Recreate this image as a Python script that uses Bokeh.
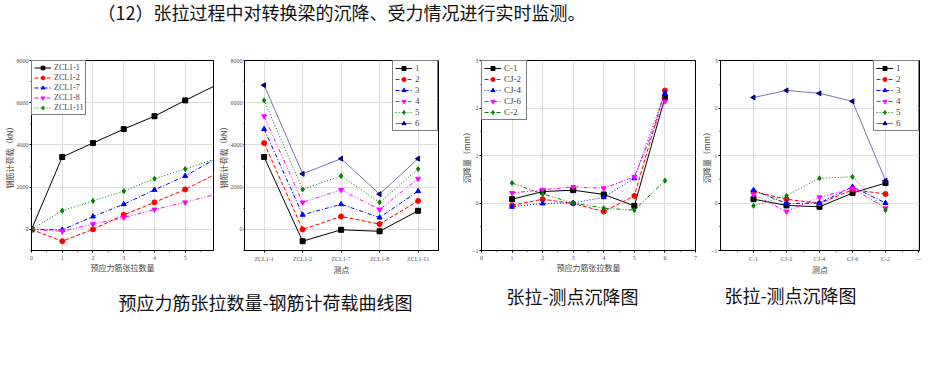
import numpy as np
from bokeh.plotting import figure
from bokeh.layouts import column, row
from bokeh.models import Range1d, FixedTicker, Legend, LegendItem, Label
from bokeh.embed import file_html
from bokeh.resources import INLINE

# ---------------- data ----------------
title_text = "（12）张拉过程中对转换梁的沉降、受力情况进行实时监测。"
caption_texts = ["预应力筋张拉数量-钢筋计荷载曲线图", "张拉-测点沉降图", "张拉-测点沉降图"]

load_xlabel = "预应力筋张拉数量"
point_xlabel = "测点"
load_ylabel = "钢筋计荷载（kN）"
settle_ylabel = "沉降量（mm）"

# rebar gauge load (kN) vs. number of tensioned tendons
load_points = ["ZCL1-1", "ZCL1-2", "ZCL1-7", "ZCL1-8", "ZCL1-11"]
tension_counts = [0, 1, 2, 3, 4, 5, 6]
zcl1_1 = [0, 3430, 4090, 4750, 5360, 6110, 6830]
zcl1_2 = [0, -560, 0, 690, 1280, 1890, 2630]
zcl1_7 = [0, -20, 610, 1190, 1870, 2530, 3350]
zcl1_8 = [0, -90, 250, 560, 940, 1280, 1670]
zcl1_11 = [0, 880, 1350, 1810, 2400, 2860, 3350]
load_series = [zcl1_1, zcl1_2, zcl1_7, zcl1_8, zcl1_11]

# settlement (mm) vs. number of tensioned tendons
settle_points = ["C-1", "CJ-2", "CJ-4", "CJ-6", "C-2"]
settle_counts = [1, 2, 3, 4, 5, 6]
c_1 = [0.08, 0.24, 0.27, 0.18, -0.06, 2.22]
cj_2 = [-0.05, 0.08, -0.01, -0.18, 0.15, 2.37]
cj_4 = [-0.08, -0.01, 0.00, 0.12, 0.52, 2.31]
cj_6 = [0.21, 0.28, 0.34, 0.31, 0.55, 2.14]
c_2 = [0.42, 0.19, 0.00, -0.11, -0.15, 0.47]
settle_series = [c_1, cj_2, cj_4, cj_6, c_2]

stage_labels = ["1", "2", "3", "4", "5", "6"]
extra_tick_label = "—"

# ---------------- styles ----------------
SOLID, DASH, DOT, DASHDOT, DASHDOTDOT = "solid", "4 2", "1 2", "4 2 1 2", "4 2 1 2 1 2"
C_BLACK, C_RED, C_BLUE, C_MAG, C_GREEN, C_NAVY = "#000000", "#ff0000", "#0000ff", "#ff00ff", "#008000", "#000080"
# (line color, marker color, dash, marker, angle)
stage_styles = [
    (C_BLACK, C_BLACK, SOLID, "square", 0),
    (C_RED, C_RED, DASH, "circle", 0),
    (C_BLUE, C_BLUE, DASHDOT, "triangle", 0),
    (C_MAG, C_MAG, DASHDOTDOT, "inverted_triangle", 0),
    (C_GREEN, C_GREEN, DOT, "diamond", 0),
    ("#7474b0", C_NAVY, SOLID, "triangle", np.pi / 2),
]
load_styles = stage_styles[:5]
settle_styles = [
    (C_BLACK, C_BLACK, SOLID, "square", 0),
    (C_RED, C_RED, DASH, "circle", 0),
    (C_BLUE, C_BLUE, DOT, "triangle", 0),
    (C_MAG, C_MAG, DASHDOT, "inverted_triangle", 0),
    (C_GREEN, C_GREEN, DASHDOTDOT, "diamond", 0),
]

TICK_FONT = "Liberation Serif"
CJK = "Noto Sans CJK SC"
PANEL_H = 239


def make_fig(width, bl, br, xr, yr, xticks, xminor, yticks, yminor, xlabel, ylabel,
             overrides=None, ylab_standoff=-1, ytick_out=2):
    p = figure(width=width, height=PANEL_H, x_range=Range1d(*xr), y_range=Range1d(*yr),
               output_backend="svg", toolbar_location=None,
               min_border_left=bl, min_border_right=br, min_border_top=20, min_border_bottom=29)
    p.outline_line_color = "black"
    p.outline_line_width = 1
    xt = FixedTicker(ticks=xticks, minor_ticks=xminor)
    yt = FixedTicker(ticks=yticks, minor_ticks=yminor)
    p.xaxis.ticker = xt
    p.yaxis.ticker = yt
    p.xgrid.ticker = xt
    p.ygrid.ticker = yt
    p.grid.grid_line_color = "#dedede"
    p.grid.grid_line_width = 1
    for ax in p.axis:
        ax.axis_line_color = "black"
        ax.major_tick_out = 2
        ax.major_tick_in = 0
        ax.minor_tick_out = 1
        ax.minor_tick_in = 0
        ax.major_label_standoff = 1
        ax.major_label_text_font = TICK_FONT
        ax.major_label_text_font_size = "6px"
        ax.major_label_text_color = "#555555"
        ax.axis_label_text_font = CJK
        ax.axis_label_text_font_size = "8px"
        ax.axis_label_text_font_style = "normal"
        ax.axis_label_text_color = "#444444"
    p.xaxis.axis_label = xlabel
    p.yaxis.axis_label = ylabel
    p.yaxis.axis_label_standoff = ylab_standoff
    p.yaxis.major_tick_out = ytick_out
    p.xaxis.major_label_standoff = 3
    p.xaxis.axis_label_standoff = -1
    if overrides:
        p.xaxis.major_label_overrides = overrides
    return p


def add_series(p, xs, ys_list, names, styles, loc, fsize, gh):
    items = []
    for ys, name, (lc, mc, dash, mk, ang) in zip(ys_list, names, styles):
        r1 = p.line(xs, ys, line_color=lc, line_width=1, line_dash=dash)
        r2 = p.scatter(xs, ys, marker=mk, angle=ang, size=5, fill_color=mc, line_color=mc)
        items.append(LegendItem(label=name, renderers=[r1, r2]))
    lg = Legend(items=items, location=loc, margin=0, padding=2, spacing=1,
                label_text_font=TICK_FONT, label_text_font_size=fsize,
                glyph_height=gh, glyph_width=17, label_height=gh, label_standoff=3,
                border_line_color="black", border_line_width=1,
                background_fill_color="white", background_fill_alpha=1)
    p.add_layout(lg)


# ---- panel 1: load vs tension count ----
p1 = make_fig(214, 31, 1, (0, 5.92), (-1000, 8000),
              [0, 1, 2, 3, 4, 5], [0.5, 1.5, 2.5, 3.5, 4.5, 5.5],
              [0, 2000, 4000, 6000, 8000], [-1000, 1000, 3000, 5000, 7000],
              load_xlabel, load_ylabel, ylab_standoff=-1)
add_series(p1, tension_counts, load_series, load_points, load_styles, "top_left", "8px", 9)

# ---- panel 2: load vs gauge point, per stage ----
pt_idx = [i + 1 for i in range(len(load_points))]
stage_load = [[s[k] for s in load_series] for k in range(1, len(tension_counts))]
p2 = make_fig(244, 26, 20, (0.49, 5.53), (-1000, 8000),
              pt_idx, [],
              [0, 2000, 4000, 6000, 8000], [-1000, 1000, 3000, 5000, 7000],
              point_xlabel, load_ylabel,
              overrides={i: n for i, n in zip(pt_idx, load_points)}, ylab_standoff=-1, ytick_out=1)
add_series(p2, pt_idx, stage_load, stage_labels, stage_styles, "top_right", "9px", 10)

# ---- panel 3: settlement vs tension count ----
p3 = make_fig(240, 22, 3, (0, 7), (-1, 3),
              [0, 1, 2, 3, 4, 5, 6, 7], [0.5, 1.5, 2.5, 3.5, 4.5, 5.5, 6.5],
              [-1, 0, 1, 2, 3], [-0.5, 0.5, 1.5, 2.5],
              load_xlabel, settle_ylabel, ylab_standoff=-3)
add_series(p3, settle_counts, settle_series, settle_points, settle_styles, "top_left", "9px", 10)

# ---- panel 4: settlement vs measuring point, per stage ----
sp_idx = [i + 1 for i in range(len(settle_points))]
stage_settle = [[s[k] for s in settle_series] for k in range(len(settle_counts))]
ov4 = {i: n for i, n in zip(sp_idx, settle_points)}
ov4[len(settle_points) + 1] = extra_tick_label
p4 = make_fig(235, 20, 14, (0, 6.03), (-1, 3),
              sp_idx + [len(settle_points) + 1], [0.5, 1.5, 2.5, 3.5, 4.5, 5.5],
              [-1, 0, 1, 2, 3], [-0.5, 0.5, 1.5, 2.5],
              point_xlabel, settle_ylabel, overrides=ov4, ylab_standoff=-4)
add_series(p4, sp_idx, stage_settle, stage_labels, stage_styles, "top_right", "9px", 10)


# ---- text figures ----
def text_fig(w, h):
    f = figure(width=w, height=h, x_range=Range1d(0, w), y_range=Range1d(h, 0),
               output_backend="svg", toolbar_location=None,
               min_border_left=0, min_border_right=0, min_border_top=0, min_border_bottom=0)
    f.axis.visible = False
    f.grid.visible = False
    f.outline_line_color = None
    return f


W = 933
tf = text_fig(W, 40)
tf.add_layout(Label(x=97, y=11, text=title_text, text_font=CJK, text_font_size="18px",
                    text_baseline="middle", text_align="left", text_color="#111111"))

cf = text_fig(W, 50)
cap_pos = [(265, 22), (572, 16), (790, 15)]
for txt, (cx, cy) in zip(caption_texts, cap_pos):
    cf.add_layout(Label(x=cx, y=cy, text=txt, text_font=CJK, text_font_size="18px",
                        text_baseline="middle", text_align="center", text_color="#111111"))

layout = column(tf, row(p1, p2, p3, p4), cf)

with open("out.html", "w") as fh:
    fh.write(file_html(layout, INLINE))
